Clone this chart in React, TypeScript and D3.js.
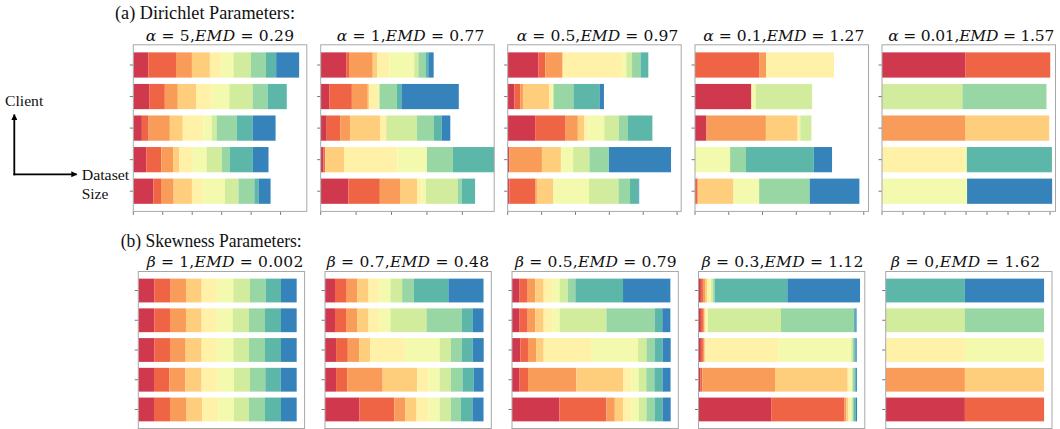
import React from 'react';
import * as d3 from 'd3';

// Spectral palette, 10 classes
const classColors = ['#d0384e', '#ee6445', '#fa9c59', '#fece7c', '#fff1a7', '#f4faad', '#d1ec9c', '#98d6a4', '#5cb7a9', '#3683bb'];

// ---------- (a) Dirichlet ----------
const alphaValues = ['5', '1', '0.5', '0.1', '0.01'];
const alphaEMD = ['0.29', '0.77', '0.97', '1.27', '1.57'];
// each panel: 5 clients (top -> bottom), 10 class counts
const dirAlpha5 = [
  [51, 94, 54, 61, 40, 40, 59, 51, 35, 78],
  [54, 53, 44, 62, 53, 60, 79, 51, 65, 0],
  [29, 23, 72, 44, 70, 28, 17, 68, 54, 78],
  [44, 51, 40, 21, 46, 47, 52, 26, 79, 53],
  [68, 26, 43, 62, 38, 74, 46, 54, 15, 40],
];
const dirAlpha1 = [
  [72, 8, 67, 12, 35, 70, 12, 20, 8, 15],
  [24, 64, 45, 4, 25, 2, 3, 48, 13, 162],
  [17, 38, 28, 85, 17, 0, 87, 48, 22, 24],
  [8, 4, 1, 53, 151, 83, 0, 73, 140, 0],
  [78, 89, 57, 48, 13, 12, 90, 11, 38, 0],
];
const dirAlpha05 = [
  [91, 20, 51, 0, 175, 13, 17, 25, 23, 0],
  [20, 17, 8, 78, 8, 2, 3, 58, 77, 13],
  [81, 90, 36, 19, 13, 46, 43, 27, 72, 0],
  [5, 0, 96, 56, 0, 36, 48, 58, 0, 183],
  [5, 76, 5, 49, 0, 105, 87, 34, 25, 2],
];
const dirAlpha01 = [
  [0, 190, 21, 0, 201, 0, 0, 0, 0, 0],
  [166, 0, 0, 2, 3, 9, 167, 0, 0, 0],
  [34, 0, 176, 94, 8, 0, 33, 0, 0, 0],
  [0, 0, 0, 0, 0, 104, 0, 47, 201, 54],
  [0, 8, 0, 106, 0, 76, 0, 150, 0, 147],
];
const dirAlpha001 = [
  [398, 403, 0, 0, 0, 0, 0, 0, 0, 0],
  [0, 0, 0, 0, 0, 0, 383, 400, 0, 0],
  [0, 0, 398, 398, 0, 0, 0, 0, 0, 0],
  [0, 0, 0, 0, 390, 14, 0, 0, 405, 0],
  [0, 0, 0, 0, 0, 405, 0, 0, 0, 405],
];
const dirichletXMax = [589, 490, 512, 514, 826];
const dirichletTickStep = [100, 100, 100, 100, 100];

// ---------- (b) Skewness ----------
const betaValues = ['1', '0.7', '0.5', '0.3', '0'];
const betaEMD = ['0.002', '0.48', '0.79', '1.12', '1.62'];
const skewBeta1 = [
  [10.1, 10.3, 9.7, 9.9, 9.9, 10.1, 10.5, 9.9, 9.7, 9.9],
  [10.1, 9.9, 10.1, 9.9, 9.9, 9.7, 10.3, 10.1, 10.1, 9.9],
  [10.1, 9.9, 9.9, 10.1, 9.9, 10.1, 9.9, 10.1, 10.1, 9.9],
  [9.9, 9.7, 10.1, 10.3, 9.9, 10.5, 10.1, 9.7, 9.7, 10.1],
  [9.9, 10.1, 10.5, 9.9, 10.1, 9.9, 9.5, 10.1, 10.1, 9.9],
];
const skewBeta07 = [
  [6.3, 7.4, 6.8, 7.0, 7.0, 6.8, 7.4, 7.4, 21.8, 22.2],
  [6.3, 7.0, 7.2, 7.0, 7.0, 6.8, 22.8, 22.2, 6.8, 7.0],
  [7.0, 7.4, 7.2, 7.0, 21.8, 22.0, 7.0, 7.0, 6.8, 7.0],
  [7.0, 7.0, 22.4, 21.8, 7.0, 7.2, 7.0, 7.4, 7.0, 6.3],
  [21.8, 22.0, 7.0, 7.0, 7.4, 7.2, 7.0, 6.3, 7.4, 7.0],
];
const skewBeta05 = [
  [4.8, 5.1, 4.8, 5.3, 5.3, 4.8, 5.1, 4.8, 30.1, 29.9],
  [4.8, 5.1, 4.8, 5.3, 5.3, 4.8, 29.5, 30.5, 4.8, 5.1],
  [5.3, 4.8, 5.1, 4.8, 29.9, 29.7, 5.3, 5.1, 5.1, 5.1],
  [4.8, 5.3, 30.5, 29.5, 5.1, 4.8, 4.8, 5.1, 5.1, 5.1],
  [29.9, 29.7, 5.3, 5.3, 5.1, 4.8, 4.8, 5.1, 5.1, 5.1],
];
const skewBeta03 = [
  [1.5, 1.3, 1.3, 1.3, 1.3, 1.3, 1.3, 0.8, 46.0, 45.9],
  [1.5, 1.3, 0.8, 0.8, 0.8, 0.8, 46.1, 46.1, 0.8, 0.8],
  [1.5, 1.3, 1.0, 0.6, 45.9, 46.1, 1.1, 0.8, 0.8, 0.8],
  [1.1, 1.3, 45.9, 45.9, 1.3, 1.3, 0.8, 0.8, 0.8, 0.8],
  [45.9, 46.3, 1.1, 1.1, 1.1, 1.1, 0.8, 0.8, 1.1, 0.8],
];
const skewBeta0 = [
  [0, 0, 0, 0, 0, 0, 0, 0, 50, 50],
  [0, 0, 0, 0, 0, 0, 50, 50, 0, 0],
  [0, 0, 0, 0, 50, 50, 0, 0, 0, 0],
  [0, 0, 50, 50, 0, 0, 0, 0, 0, 0],
  [50, 50, 0, 0, 0, 0, 0, 0, 0, 0],
];
const skewXMax = [105, 105, 105, 105, 105];
const skewTickStep = [20, 20, 20, 20, 20];

const dirichletData = [dirAlpha5, dirAlpha1, dirAlpha05, dirAlpha01, dirAlpha001];
const skewData = [skewBeta1, skewBeta07, skewBeta05, skewBeta03, skewBeta0];

// ---------- layout ----------
const W = 1060;
const H = 429;
const rowA = { lefts: [133.3, 320.7, 507.7, 695, 882], width: 173.5, top: 44.8, bottom: 211.4, titleY: 41 };
const rowB = { lefts: [138.3, 325, 512, 698.5, 885.7], width: 166.3, top: 271.5, bottom: 428.5, titleY: 267 };
const titleA = [[145.7, 148.3], [336.7, 147.6], [516.7, 161.6], [703.3, 161], [888.3, 166]];
const titleB = [[146.7, 156.6], [326.7, 162.3], [515, 161.7], [701.7, 161.6], [891, 149]];

const SPINE = '#a8a8a8';
const TICK = '#555';

type PanelProps = {
  id: string;
  x0: number;
  width: number;
  top: number;
  bottom: number;
  data: number[][];
  xMax: number;
  tickStep: number;
};

function Panel({ id, x0, width, top, bottom, data, xMax, tickStep }: PanelProps) {
  const x = d3.scaleLinear().domain([0, xMax]).range([x0, x0 + width]);
  const y = d3.scaleLinear().domain([-0.64, 4.64]).range([top, bottom]);
  const keys = d3.range(10).map(String);
  const rows = data.map((r) => Object.fromEntries(r.map((v, i) => [String(i), v])));
  const series = d3.stack<any, string>().keys(keys)(rows as any);
  const ticks = d3.range(0, xMax + 1e-9, tickStep);
  return (
    <g>
      <defs>
        <clipPath id={id}>
          <rect x={x0} y={top} width={width} height={bottom - top} />
        </clipPath>
      </defs>
      <g clipPath={`url(#${id})`}>
        {series.map((s, k) =>
          s.map((d, j) => {
            const w = x(d[1]) - x(d[0]);
            if (w <= 0) return null;
            return (
              <rect
                key={`${k}-${j}`}
                x={x(d[0])}
                y={y(j - 0.4)}
                width={w}
                height={y(j + 0.4) - y(j - 0.4)}
                fill={classColors[k]}
              />
            );
          })
        )}
      </g>
      {d3.range(5).map((j) => (
        <line key={`yt${j}`} x1={x0} x2={x0 - 3.5} y1={y(j)} y2={y(j)} stroke={TICK} strokeWidth={0.8} />
      ))}
      {ticks.map((t) => (
        <line key={`xt${t}`} x1={x(t)} x2={x(t)} y1={bottom} y2={bottom + 3.5} stroke={TICK} strokeWidth={0.8} />
      ))}
      <rect x={x0} y={top} width={width} height={bottom - top} fill="none" stroke={SPINE} strokeWidth={1} />
    </g>
  );
}

function MathTitle({ x, y, w, sym, val, emd }: { x: number; y: number; w: number; sym: string; val: string; emd: string }) {
  return (
    <text x={x} y={y} fontFamily="DejaVu Serif" fontSize={15.5} fill="#111" textLength={w} lengthAdjust="spacing">
      <tspan fontStyle="italic">{sym}</tspan>
      {` = ${val},`}
      <tspan fontStyle="italic">EMD</tspan>
      {` = ${emd}`}
    </text>
  );
}

export default function App() {
  return (
    <svg width={W} height={H} style={{ position: 'absolute', left: 0, top: 0, background: '#fff' }}>
      <rect x={0} y={0} width={W} height={H} fill="#fff" />
      {/* Headings */}
      <text x={115} y={19} fontFamily="Liberation Serif" fontSize={18} fill="#111" textLength={180} lengthAdjust="spacingAndGlyphs">
        (a) Dirichlet Parameters:
      </text>
      <text x={120.7} y={246.5} fontFamily="Liberation Serif" fontSize={18} fill="#111" textLength={181} lengthAdjust="spacingAndGlyphs">
        (b) Skewness Parameters:
      </text>

      {/* Axis annotation */}
      <defs>
        <marker id="arrowHead" viewBox="0 0 10 10" refX="9" refY="5" markerWidth="7" markerHeight="6" markerUnits="userSpaceOnUse" orient="auto">
          <path d="M0,0 L10,5 L0,10 z" fill="#000" />
        </marker>
      </defs>
      <text x={5} y={105.5} fontFamily="Liberation Serif" fontSize={15.5} fill="#111" textLength={38.3} lengthAdjust="spacingAndGlyphs">
        Client
      </text>
      <line x1={14.3} y1={175.3} x2={14.3} y2={114.5} stroke="#000" strokeWidth={1.8} markerEnd="url(#arrowHead)" />
      <line x1={13.4} y1={174.3} x2={76.7} y2={174.3} stroke="#000" strokeWidth={1.8} markerEnd="url(#arrowHead)" />
      <text x={81.7} y={180} fontFamily="Liberation Serif" fontSize={15.5} fill="#111" textLength={47.6} lengthAdjust="spacingAndGlyphs">
        Dataset
      </text>
      <text x={81.7} y={199} fontFamily="Liberation Serif" fontSize={15.5} fill="#111">
        Size
      </text>

      {/* Row (a) */}
      {dirichletData.map((d, i) => (
        <g key={`a${i}`}>
          <MathTitle x={titleA[i][0]} y={rowA.titleY} w={titleA[i][1]} sym="α" val={alphaValues[i]} emd={alphaEMD[i]} />
          <Panel
            id={`clipA${i}`}
            x0={rowA.lefts[i]}
            width={rowA.width}
            top={rowA.top}
            bottom={rowA.bottom}
            data={d}
            xMax={dirichletXMax[i]}
            tickStep={dirichletTickStep[i]}
          />
        </g>
      ))}

      {/* Row (b) */}
      {skewData.map((d, i) => (
        <g key={`b${i}`}>
          <MathTitle x={titleB[i][0]} y={rowB.titleY} w={titleB[i][1]} sym="β" val={betaValues[i]} emd={betaEMD[i]} />
          <Panel
            id={`clipB${i}`}
            x0={rowB.lefts[i]}
            width={rowB.width}
            top={rowB.top}
            bottom={rowB.bottom}
            data={d}
            xMax={skewXMax[i]}
            tickStep={skewTickStep[i]}
          />
        </g>
      ))}
    </svg>
  );
}
